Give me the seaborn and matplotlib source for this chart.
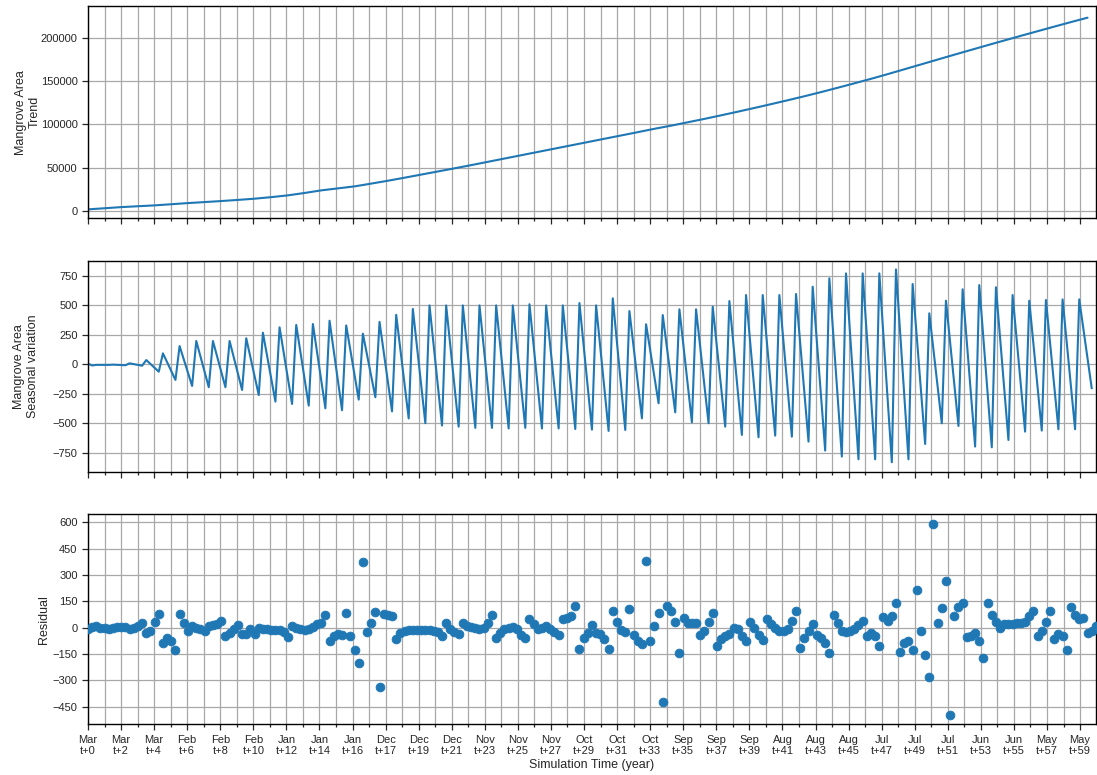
import numpy as np
import pandas as pd
import matplotlib
matplotlib.use("Agg")
import matplotlib.pyplot as plt
import seaborn as sns
from matplotlib.ticker import FixedLocator, NullFormatter

# ---------------- data ----------------
# x tick labels (every 720 days)
tick_months = ["Mar", "Mar", "Mar", "Feb", "Feb", "Feb", "Jan", "Jan", "Jan",
               "Dec", "Dec", "Dec", "Nov", "Nov", "Nov", "Oct", "Oct", "Oct",
               "Sep", "Sep", "Sep", "Aug", "Aug", "Aug", "Jul", "Jul", "Jul",
               "Jun", "Jun", "May", "May"]
tick_years = [0, 2, 4, 6, 8, 10, 12, 14, 16, 17, 19, 21, 23, 25, 27, 29, 31,
              33, 35, 37, 39, 41, 43, 45, 47, 49, 51, 53, 55, 57, 59]

# trend, one value per simulated year (t = 0 .. 60)
trend = [2000, 3300, 4600, 5600, 6600, 7900, 9250, 10400, 11600, 12900,
         14300, 16100, 18150, 20900, 23900, 26200, 28500, 31700, 35000, 38500,
         42100, 45700, 49300, 53000, 56800, 60600, 64400, 68200, 72000, 75800,
         79600, 83400, 87200, 91000, 94900, 98500, 102400, 106300, 110400, 114600,
         118900, 123300, 127800, 132400, 137200, 142200, 147300, 152500, 157900, 163500,
         169100, 174700, 180300, 185800, 191300, 196700, 202100, 207400, 212700, 217900,
         223000]

# seasonal component: first value, then per-cycle trough (k+0.25) and peak (k+0.5)
seasonal_first = 5
seasonal_troughs = [-10, -5, -8, -12, -63, -133, -184, -195, -195, -218,
                    -261, -317, -337, -351, -374, -390, -300, -280, -400, -460,
                    -500, -520, -530, -540, -540, -545, -540, -545, -545, -550,
                    -555, -566, -558, -459, -331, -408, -493, -501, -530, -600,
                    -620, -606, -615, -657, -733, -784, -807, -807, -832, -807,
                    -677, -501, -524, -699, -705, -643, -572, -563, -552, -552,
                    -204]
seasonal_peaks = [-5, -3, 8, 36, 93, 155, 198, 198, 198, 221,
                  268, 314, 334, 342, 370, 330, 260, 360, 420, 470,
                  500, 500, 500, 500, 500, 500, 510, 500, 500, 520,
                  500, 560, 452, 340, 418, 467, 467, 489, 537, 588,
                  588, 588, 597, 659, 730, 772, 772, 772, 806, 682,
                  433, 540, 637, 673, 654, 588, 540, 546, 551, 551]

# residuals, one per quarter
residual = [-10, 5, 10, 0, 0, -5, 0, 5, 5, 5,
            -10, 0, 10, 25, -28, -20, 30, 80, -90, -57,
            -75, -125, 80, 28, -19, 8, 0, -5, -20, 10,
            15, 18, 40, -45, -28, -10, 15, -35, -38, -5,
            -38, 0, -5, -10, -15, -15, -15, -25, -55, 12,
            0, -10, -15, -10, 5, 20, 28, 70, -75, -45,
            -35, -40, 85, -45, -125, -200, 375, -25, 25, 90,
            -340, 75, 70, 65, -65, -30, -20, -15, -15, -15,
            -15, -15, -15, -20, -25, -50, 28, -5, -25, -38,
            28, 10, 5, 0,
            -10, 0, 28, 70, -57, -28, -10, 0, 5, -10,
            -40, -57, 50, 19, -5, 0, 10, -10, -25, -43,
            47, 57, 66, 126, -119, -57, -28, 13, -28, -35,
            -62, -119, 94, 32, -13, -25, 104, -43, -75, -94,
            381, -75, 9, 81, -421, 123, 94, 34, -142, 57,
            28, 25, 28, -43, -19, 32, 85, -104, -66, -47,
            -38, 0, -10, -47, -75, 32, 0, -43, -70, 47,
            19, 0, -19, -20, -5, 38, 94, -113, -57, -19,
            19, -43, -57, -85, -145, 70, 28, -19, -25, -19,
            -5, 13, 38, -45, -28, -47, -104, 62, 38, 66,
            141, -138, -89, -75, -126, 217, -19, -157, -283, 591,
            25, 113, 264, -496, 66, 119, 141, -53, -47, -28,
            -75, -170, 141, 72, 32, 0, 19, 19, 19, 28,
            28, 32, 66, 94, -47, -19, 32, 94, -66, -38,
            -47, -126, 119, 70, 47, 57, -28, -19, 9]

# ---------------- build frames ----------------
step = 0.25          # one sample per quarter (in simulated years)
tick_step = 1.985    # 720 days expressed in simulated years

df_res = pd.DataFrame({"t": np.arange(len(residual)) * step, "v": residual})
df_trend = pd.DataFrame({"t": np.arange(len(trend), dtype=float), "v": trend})

s_t = [0.0]
s_v = [seasonal_first]
for k in range(len(seasonal_troughs)):
    s_t.append(k + 0.25)
    s_v.append(seasonal_troughs[k])
    if k < len(seasonal_peaks):
        s_t.append(k + 0.5)
        s_v.append(seasonal_peaks[k])
df_seas = pd.DataFrame({"t": s_t, "v": s_v})

x_max = df_res["t"].iloc[-1]

# ---------------- style ----------------
sns.set_style("ticks")
plt.rcParams['font.family'] = ['Liberation Sans', 'DejaVu Sans']
plt.rcParams['axes.linewidth'] = 1.0

blue = "#1f77b4"
grid_kw = dict(color="#a8a8a8", linewidth=0.9)

fig = plt.figure(figsize=(10.97, 7.75), dpi=100)
ax1 = fig.add_axes([0.0802, 0.7181, 0.9188, 0.2742])
ax2 = fig.add_axes([0.0802, 0.3914, 0.9188, 0.2718], sharex=ax1)
ax3 = fig.add_axes([0.0802, 0.0654, 0.9188, 0.2710], sharex=ax1)

sns.lineplot(data=df_trend, x="t", y="v", ax=ax1, color=blue, linewidth=1.5)
sns.lineplot(data=df_seas, x="t", y="v", ax=ax2, color=blue, linewidth=1.5)
sns.scatterplot(data=df_res, x="t", y="v", ax=ax3, color=blue, s=40,
                edgecolor=blue, linewidth=0.6, zorder=3)

major = [k * tick_step for k in range(len(tick_months))]
minor = [(k + 0.5) * tick_step for k in range(len(tick_months))]
labels = [f"{m}\nt+{y}" for m, y in zip(tick_months, tick_years)]

for ax in (ax1, ax2, ax3):
    ax.set_xlim(0, x_max)
    ax.xaxis.set_major_locator(FixedLocator(major))
    ax.xaxis.set_minor_locator(FixedLocator(minor))
    ax.grid(True, which="both", axis="x", **grid_kw)
    ax.grid(True, which="major", axis="y", **grid_kw)
    ax.set_axisbelow(True)
    ax.tick_params(axis="both", which="major", labelsize=8, length=4, width=0.9)
    ax.tick_params(axis="x", which="minor", length=2.5, width=0.9)
    for sp in ax.spines.values():
        sp.set_visible(True)
        sp.set_color("black")
    ax.set_xlabel("")

ax1.tick_params(axis="x", labelbottom=False)
ax2.tick_params(axis="x", labelbottom=False)

ax3.set_xticks(major)
ax3.set_xticklabels(labels)
ax3.xaxis.set_minor_formatter(NullFormatter())
ax3.set_xlabel("Simulation Time (year)", fontsize=9, labelpad=2)

ax1.set_ylim(-8500, 236500)
ax1.set_yticks([0, 50000, 100000, 150000, 200000])
ax1.set_ylabel("Mangrove Area\nTrend", fontsize=9, labelpad=0)

ax2.set_ylim(-912, 877)
ax2.set_yticks([-750, -500, -250, 0, 250, 500, 750])
ax2.set_ylabel("Mangrove Area\nSeasonal variation", fontsize=9, labelpad=10)

ax3.set_ylim(-550, 645)
ax3.set_yticks([-450, -300, -150, 0, 150, 300, 450, 600])
ax3.set_ylabel("Residual", fontsize=9, labelpad=2)

fig.savefig("out.png", dpi=100)
